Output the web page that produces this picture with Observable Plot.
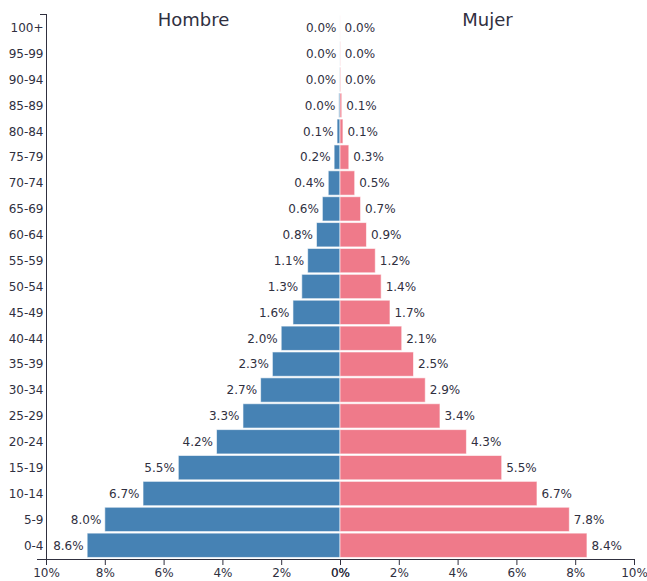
<!DOCTYPE html>
<html>
<head>
<meta charset="utf-8">
<script src="https://cdn.jsdelivr.net/npm/d3@7"></script>
<script src="https://cdn.jsdelivr.net/npm/@observablehq/plot@0.6"></script>
<style>
  html, body { margin: 0; padding: 0; background: #fff; }
  #chart { font-family: "DejaVu Sans", sans-serif; color: #30303f; }
</style>
</head>
<body>
<div id="chart"></div>
<script>
const ageGroups = ["100+","95-99","90-94","85-89","80-84","75-79","70-74","65-69","60-64","55-59","50-54","45-49","40-44","35-39","30-34","25-29","20-24","15-19","10-14","5-9","0-4"];
const hombre = [0.001,0.003,0.01,0.04,0.1,0.2,0.4,0.6,0.8,1.1,1.3,1.6,2.0,2.3,2.7,3.3,4.2,5.5,6.7,8.0,8.6];
const mujer  = [0.002,0.008,0.02,0.06,0.1,0.3,0.5,0.7,0.9,1.2,1.4,1.7,2.1,2.5,2.9,3.4,4.3,5.5,6.7,7.8,8.4];
const sexLabels = ["Hombre","Mujer"];
const xTicksLeft = [-10,-8,-6,-4,-2,0];
const xTicksRight = [0,2,4,6,8,10];

const male = ageGroups.map((age, i) => ({age, value: hombre[i]}));
const female = ageGroups.map((age, i) => ({age, value: mujer[i]}));
const titles = [{x: -5, label: sexLabels[0]}, {x: 5, label: sexLabels[1]}];
const fmt = v => v.toFixed(1) + "%";
const tickFmt = d => Math.abs(d) + "%";

const plot = Plot.plot({
  width: 647,
  height: 581,
  marginLeft: 46,
  marginRight: 13,
  marginTop: 14,
  marginBottom: 22,
  style: {fontFamily: "DejaVu Sans, sans-serif", fontSize: "12px", color: "#30303f", background: "#fff"},
  x: {domain: [-10, 10], range: [46, 634], axis: null},
  y: {domain: ageGroups, range: [14, 559], padding: 0.06, round: false, axis: null},
  marks: [
    Plot.barX(male, {y: "age", x1: 0, x2: d => -d.value, fill: "#4682b4", stroke: "#fff", strokeOpacity: 0.6, strokeWidth: 1}),
    Plot.barX(female, {y: "age", x1: 0, x2: "value", fill: "#ef7a8a", stroke: "#fff", strokeOpacity: 0.6, strokeWidth: 1}),
    Plot.text(male, {y: "age", x: d => -d.value, text: d => fmt(d.value), textAnchor: "end", dx: -4, fontSize: 12, fill: "#30303f"}),
    Plot.text(female, {y: "age", x: "value", text: d => fmt(d.value), textAnchor: "start", dx: 4, fontSize: 12, fill: "#30303f"}),
    Plot.text(titles, {x: "x", text: "label", frameAnchor: "top", lineAnchor: "middle", dy: 6, fontSize: 18, fill: "#30303f"}),
    Plot.axisY({tickSize: 0, tickPadding: 3, label: null, fontSize: 12}),
    Plot.axisX({ticks: xTicksLeft, tickFormat: tickFmt, tickSize: 6, tickPadding: 3, label: null, fontSize: 12}),
    Plot.axisX({ticks: xTicksRight, tickFormat: tickFmt, tickSize: 6, tickPadding: 3, label: null, fontSize: 12}),
    Plot.frame({anchor: "left", stroke: "#30303f"}),
    Plot.frame({anchor: "top", stroke: "#30303f", insetLeft: -6, insetRight: 588}),
    Plot.frame({anchor: "bottom", stroke: "#30303f", insetLeft: -9})
  ]
});
document.getElementById("chart").appendChild(plot);
</script>
</body>
</html>
